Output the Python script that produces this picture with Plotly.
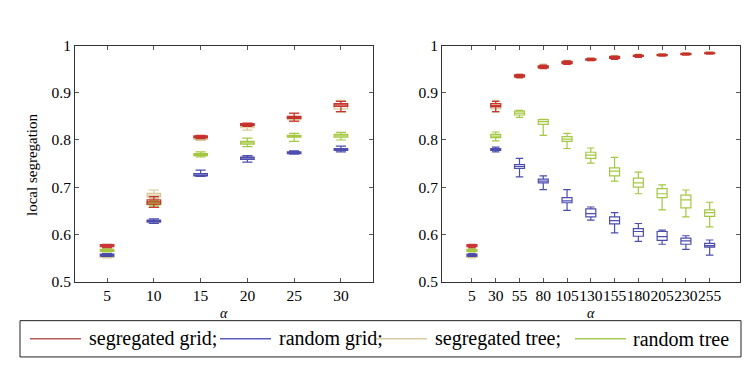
import plotly.graph_objects as go

# ---------------- data ----------------
alpha_left = [5, 10, 15, 20, 25, 30]
alpha_right = [5, 30, 55, 80, 105, 130, 155, 180, 205, 230, 255]

series_names = ["segregated grid", "random grid", "segregated tree", "random tree"]
series_colors = ["#c42222", "#3a3aa6", "#d3c38c", "#9cc22e"]
legend_colors = ["#b85a5a", "#5c5cbc", "#d8cba0", "#a8cc50"]

# left panel (alpha 5..30)
L_seg_grid_med = [0.576, 0.669, 0.807, 0.833, 0.848, 0.874]
L_seg_grid_q1 = [0.574, 0.664, 0.805, 0.831, 0.846, 0.871]
L_seg_grid_q3 = [0.578, 0.673, 0.809, 0.835, 0.850, 0.877]
L_seg_grid_lo = [0.572, 0.657, 0.803, 0.829, 0.840, 0.860]
L_seg_grid_hi = [0.579, 0.680, 0.810, 0.836, 0.857, 0.882]

L_rnd_grid_med = [0.556, 0.628, 0.726, 0.762, 0.773, 0.780]
L_rnd_grid_q1 = [0.554, 0.626, 0.724, 0.759, 0.771, 0.778]
L_rnd_grid_q3 = [0.558, 0.630, 0.729, 0.764, 0.775, 0.782]
L_rnd_grid_lo = [0.553, 0.623, 0.723, 0.753, 0.770, 0.775]
L_rnd_grid_hi = [0.559, 0.633, 0.736, 0.767, 0.777, 0.787]

L_seg_tree_med = [0.552, 0.683, 0.804, 0.829, 0.846, 0.871]
L_seg_tree_q1 = [0.551, 0.679, 0.801, 0.826, 0.843, 0.866]
L_seg_tree_q3 = [0.553, 0.687, 0.806, 0.832, 0.849, 0.876]
L_seg_tree_lo = [0.550, 0.676, 0.799, 0.821, 0.839, 0.859]
L_seg_tree_hi = [0.554, 0.694, 0.808, 0.835, 0.856, 0.884]

L_rnd_tree_med = [0.566, 0.666, 0.769, 0.794, 0.808, 0.809]
L_rnd_tree_q1 = [0.564, 0.663, 0.767, 0.791, 0.806, 0.806]
L_rnd_tree_q3 = [0.568, 0.669, 0.771, 0.797, 0.810, 0.812]
L_rnd_tree_lo = [0.563, 0.660, 0.764, 0.786, 0.797, 0.800]
L_rnd_tree_hi = [0.569, 0.672, 0.775, 0.804, 0.814, 0.816]

# right panel (alpha 5..255)
R_seg_grid_med = [0.576, 0.873, 0.936, 0.955, 0.964, 0.971, 0.975, 0.978, 0.980, 0.982, 0.984]
R_seg_grid_q1 = [0.574, 0.870, 0.934, 0.953, 0.962, 0.969, 0.973, 0.977, 0.979, 0.981, 0.983]
R_seg_grid_q3 = [0.578, 0.877, 0.938, 0.957, 0.966, 0.972, 0.977, 0.979, 0.981, 0.983, 0.985]
R_seg_grid_lo = [0.572, 0.860, 0.932, 0.951, 0.960, 0.968, 0.971, 0.975, 0.978, 0.980, 0.982]
R_seg_grid_hi = [0.579, 0.882, 0.939, 0.959, 0.968, 0.973, 0.978, 0.981, 0.982, 0.984, 0.986]

R_rnd_grid_med = [0.556, 0.780, 0.744, 0.713, 0.671, 0.644, 0.629, 0.606, 0.595, 0.586, 0.576]
R_rnd_grid_q1 = [0.554, 0.778, 0.740, 0.709, 0.667, 0.637, 0.622, 0.596, 0.587, 0.579, 0.573]
R_rnd_grid_q3 = [0.558, 0.782, 0.748, 0.717, 0.678, 0.654, 0.637, 0.612, 0.606, 0.592, 0.581]
R_rnd_grid_lo = [0.553, 0.775, 0.722, 0.695, 0.651, 0.630, 0.603, 0.585, 0.579, 0.568, 0.556]
R_rnd_grid_hi = [0.559, 0.785, 0.761, 0.724, 0.695, 0.658, 0.646, 0.623, 0.609, 0.597, 0.588]

R_seg_tree_med = [0.552, 0.871, 0.935, 0.955, 0.965, 0.971, 0.976, 0.980, 0.981, 0.983, 0.985]
R_seg_tree_q1 = [0.551, 0.866, 0.933, 0.953, 0.963, 0.970, 0.974, 0.978, 0.980, 0.982, 0.984]
R_seg_tree_q3 = [0.553, 0.876, 0.937, 0.957, 0.967, 0.972, 0.978, 0.981, 0.982, 0.984, 0.986]
R_seg_tree_lo = [0.550, 0.859, 0.931, 0.952, 0.961, 0.968, 0.972, 0.976, 0.979, 0.981, 0.983]
R_seg_tree_hi = [0.554, 0.884, 0.939, 0.961, 0.969, 0.974, 0.979, 0.982, 0.983, 0.985, 0.987]

R_rnd_tree_med = [0.566, 0.808, 0.857, 0.839, 0.802, 0.768, 0.734, 0.709, 0.686, 0.673, 0.646]
R_rnd_tree_q1 = [0.564, 0.805, 0.853, 0.833, 0.797, 0.761, 0.724, 0.700, 0.678, 0.656, 0.638]
R_rnd_tree_q3 = [0.568, 0.812, 0.861, 0.843, 0.807, 0.774, 0.741, 0.719, 0.697, 0.683, 0.652]
R_rnd_tree_lo = [0.563, 0.798, 0.848, 0.810, 0.782, 0.751, 0.713, 0.686, 0.652, 0.637, 0.616]
R_rnd_tree_hi = [0.569, 0.817, 0.863, 0.844, 0.814, 0.783, 0.763, 0.732, 0.705, 0.694, 0.668]

y_ticks = [0.5, 0.6, 0.7, 0.8, 0.9, 1.0]
y_tick_text = ["0.5", "0.6", "0.7", "0.8", "0.9", "1"]
y_title = "local segregation"
x_title = "<i>α</i>"
legend_labels = ["segregated grid;", "random grid;", "segregated tree;", "random tree"]

# ---------------- figure ----------------
FONT = "Liberation Serif"
fig = go.Figure()

left = {
    "segregated tree": (L_seg_tree_q1, L_seg_tree_med, L_seg_tree_q3, L_seg_tree_lo, L_seg_tree_hi),
    "random tree": (L_rnd_tree_q1, L_rnd_tree_med, L_rnd_tree_q3, L_rnd_tree_lo, L_rnd_tree_hi),
    "random grid": (L_rnd_grid_q1, L_rnd_grid_med, L_rnd_grid_q3, L_rnd_grid_lo, L_rnd_grid_hi),
    "segregated grid": (L_seg_grid_q1, L_seg_grid_med, L_seg_grid_q3, L_seg_grid_lo, L_seg_grid_hi),
}
right = {
    "segregated tree": (R_seg_tree_q1, R_seg_tree_med, R_seg_tree_q3, R_seg_tree_lo, R_seg_tree_hi),
    "random tree": (R_rnd_tree_q1, R_rnd_tree_med, R_rnd_tree_q3, R_rnd_tree_lo, R_rnd_tree_hi),
    "random grid": (R_rnd_grid_q1, R_rnd_grid_med, R_rnd_grid_q3, R_rnd_grid_lo, R_rnd_grid_hi),
    "segregated grid": (R_seg_grid_q1, R_seg_grid_med, R_seg_grid_q3, R_seg_grid_lo, R_seg_grid_hi),
}
color_of = dict(zip(series_names, series_colors))

for panel, xs, xa, ya, w in [(left, alpha_left, "x", "y", 1.45), (right, alpha_right, "x2", "y2", 10.5)]:
    for name, (q1, med, q3, lo, hi) in panel.items():
        fig.add_trace(go.Box(
            x=xs, q1=q1, median=med, q3=q3, lowerfence=lo, upperfence=hi,
            xaxis=xa, yaxis=ya, name=name, showlegend=False,
            line=dict(color=color_of[name], width=1.2),
            fillcolor="rgba(255,255,255,0)", width=w, whiskerwidth=0.75,
            boxpoints=False, opacity=0.9,
        ))

axis_common = dict(
    showline=True, linecolor="#333333", linewidth=1, mirror="allticks",
    ticks="inside", ticklen=4, tickcolor="#555555", showgrid=False, zeroline=False,
    tickangle=0, tickfont=dict(family=FONT, size=15.5, color="#000000"),
)
fig.update_layout(
    width=751, height=377, margin=dict(l=0, r=0, t=0, b=0),
    paper_bgcolor="white", plot_bgcolor="white", boxmode="overlay", showlegend=False,
    xaxis=dict(domain=[67 / 751, 365 / 751], range=[1.57, 33.43], tickvals=alpha_left,
               ticktext=[str(v) for v in alpha_left], anchor="y", **axis_common),
    yaxis=dict(domain=[1 - 277 / 377, 1 - 30 / 377], range=[0.5, 1.0], tickvals=y_ticks,
               ticktext=y_tick_text, anchor="x", **axis_common),
    xaxis2=dict(domain=[434 / 751, 732 / 751], range=[-26.5, 286.9], tickvals=alpha_right,
                ticktext=[str(v) for v in alpha_right], anchor="y2", **axis_common),
    yaxis2=dict(domain=[1 - 277 / 377, 1 - 30 / 377], range=[0.5, 1.0], tickvals=y_ticks,
                ticktext=y_tick_text, anchor="x2", **axis_common),
)

ann = []
ann.append(dict(text=y_title, x=24 / 751, y=1 - 155 / 377, xref="paper", yref="paper",
                textangle=-90, showarrow=False, font=dict(family=FONT, size=15, color="black"),
                xanchor="center", yanchor="middle"))
for cx in [216 / 751, 583 / 751]:
    ann.append(dict(text=x_title, x=cx, y=1 - 310 / 377, xref="paper", yref="paper",
                    showarrow=False, font=dict(family=FONT, size=14, color="black"),
                    xanchor="center", yanchor="middle"))

# legend box (manual, to match pgfplots layout)
shapes = [dict(type="rect", xref="paper", yref="paper", x0=12 / 751, x1=733 / 751,
               y0=1 - 356 / 377, y1=1 - 318 / 377, line=dict(color="#222222", width=1),
               fillcolor="rgba(0,0,0,0)")]
line_starts = [22, 212, 368, 567]
text_starts = [79, 269, 425, 623]
ly = 1 - 337 / 377
for col, lbl, ls, ts in zip(legend_colors, legend_labels, line_starts, text_starts):
    shapes.append(dict(type="line", xref="paper", yref="paper", x0=ls / 751, x1=(ls + 51) / 751,
                       y0=ly, y1=ly, line=dict(color=col, width=1.5)))
    ann.append(dict(text=lbl, x=ts / 751, y=ly, xref="paper", yref="paper", showarrow=False,
                    xanchor="left", yanchor="middle",
                    font=dict(family=FONT, size=20, color="black")))
fig.update_layout(annotations=ann, shapes=shapes)

fig.write_html("out.html")
